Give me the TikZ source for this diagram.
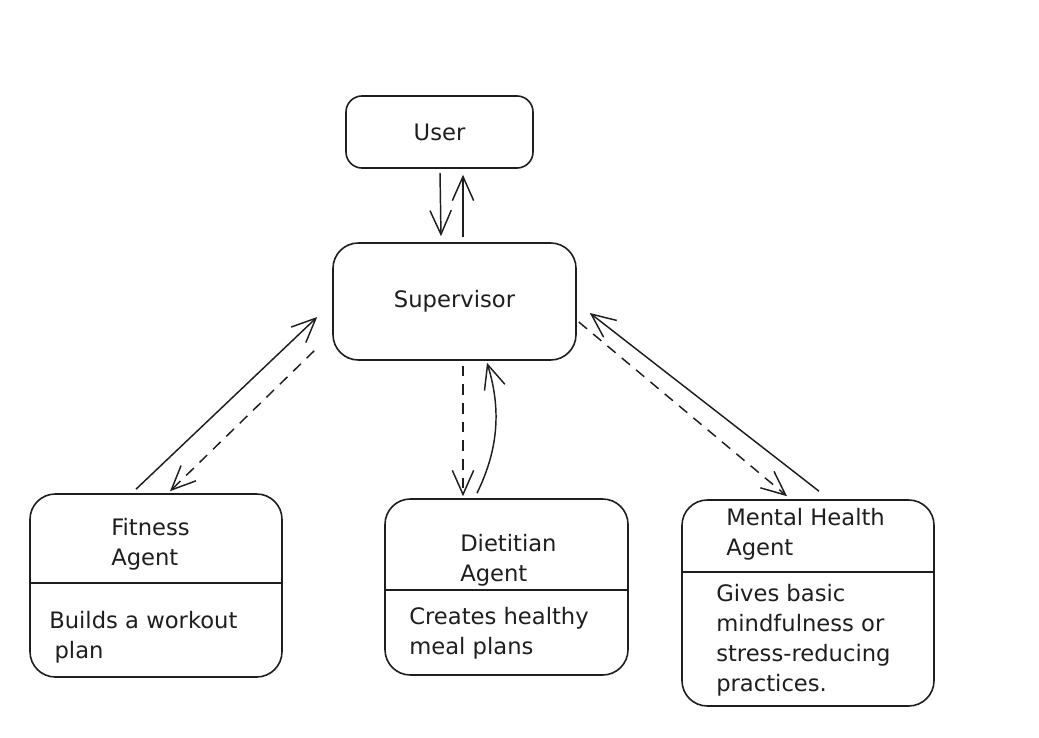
\documentclass[tikz,border=0pt]{standalone}
\usepackage{fontspec}
\setmainfont{DejaVu Sans}
\usetikzlibrary{arrows.meta,calc,fit}
\definecolor{ink}{HTML}{1E1E1E}
\tikzset{
  box/.style={draw=ink, line width=1.2pt, rounded corners=19pt, inner sep=0pt},
  smallbox/.style={box, rounded corners=12pt},
  lbl/.style={text=ink, inner sep=0pt, align=left, font=\fontsize{17}{22.5}\selectfont},
  conn/.style={draw=ink, line width=1.1pt, -{Straight Barb[length=18pt,width=16pt,line width=1.1pt]}},
  dconn/.style={conn, dash pattern=on 8pt off 6pt},
  divider/.style={draw=ink, line width=1.2pt}
}
\begin{document}
\begin{tikzpicture}[x=0.75pt,y=-0.75pt]
\useasboundingbox (0,0) rectangle (1039,738);
% boxes
\node[smallbox, fit={(346,96) (533,168)}] (user) {};
\node[box, fit={(333,243) (576,360)}] (sup) {};
\node[box, fit={(30,494) (282,677)}] (fit) {};
\node[box, fit={(385,499) (628,675)}] (diet) {};
\node[box, fit={(682,500) (934,706)}] (mh) {};
% dividers
\draw[divider] ($(fit.north west)+(0,90)$) -- ($(fit.north east)+(0,90)$);
\draw[divider] ($(diet.north west)+(0,92)$) -- ($(diet.north east)+(0,92)$);
\draw[divider] ($(mh.north west)+(0,73)$) -- ($(mh.north east)+(0,73)$);
% texts
\node[lbl] (usert) at (user.center) {User};
\node[lbl] (supt) at (sup.center) {Supervisor};
\node[lbl, anchor=west] (fitt) at (111,544) {Fitness\\Agent};
\node[lbl, anchor=west] (fitb) at (49,637) {Builds a workout\\\hspace{4pt}plan};
\node[lbl, anchor=west] (dictt) at (460,560) {Dietitian\\Agent};
\node[lbl, anchor=west] (dietb) at (409,633) {Creates healthy\\meal plans};
\node[lbl, anchor=west] (mht) at (726,534) {Mental Health\\Agent};
\node[lbl, anchor=west] (mhb) at (716,640) {Gives basic\\mindfulness or\\stress-reducing\\practices.};
% connectors
\draw[conn] ($(user.south)+(0.5,4)$) -- ($(sup.north)+(-13.5,-6)$);
\draw[conn] ($(sup.north)+(8.5,-5)$) -- ($(user.south)+(23.5,6)$);
\draw[conn] ($(fit.north)+(-20,-4)$) -- ($(sup.west)+(-15,15.5)$);
\draw[dconn] ($(sup.south west)+(-18,-10)$) -- ($(fit.north)+(14,-2)$);
\draw[dconn] ($(sup.south)+(8.5,5)$) -- ($(diet.north)+(-43.5,-2)$);
\coordinate (d1) at ($(diet.north)+(-29.5,-5)$);
\coordinate (s1) at ($(sup.south)+(32.5,2)$);
\draw[conn] (d1) .. controls ($(d1)+(22,-45)$) and ($(s1)+(14,45)$) .. (s1);
\draw[dconn] ($(sup.east)+(2,20.5)$) -- ($(mh.north)+(-21,-3)$);
\draw[conn] ($(mh.north)+(11,-8)$) -- ($(sup.east)+(13,11.5)$);
\end{tikzpicture}
\end{document}
